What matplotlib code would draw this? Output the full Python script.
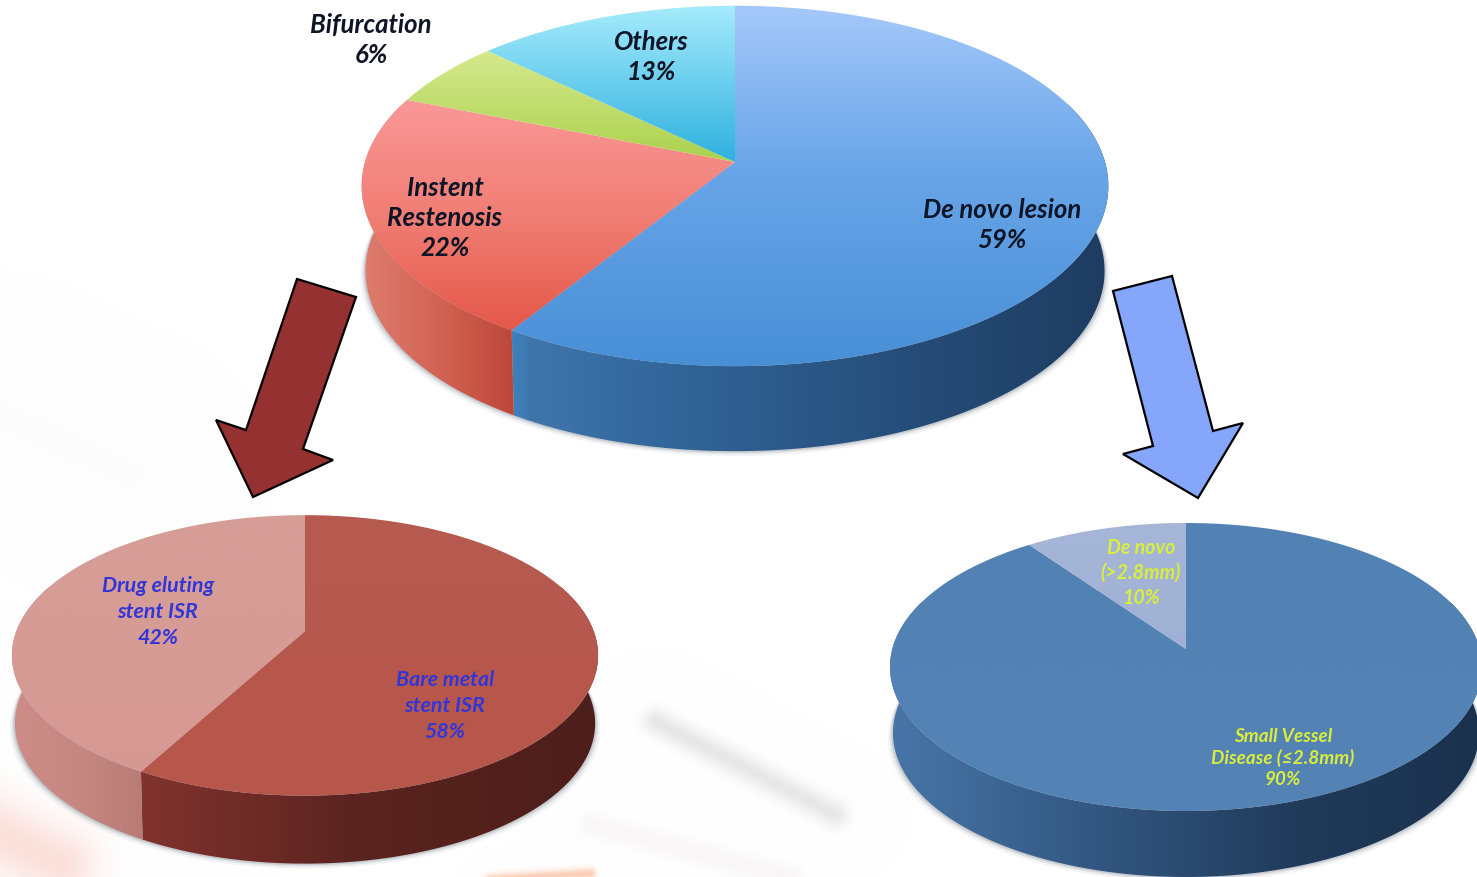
#!/usr/bin/python
# -*- coding: utf-8 -*-

import numpy as np

import matplotlib
matplotlib.use('Agg')

import matplotlib.pyplot as plt
from matplotlib.patches import Polygon

W, H = 1477, 878

# Lesion types, whole series.
main_labels = ['De novo lesion\n59%', 'Instent\nRestenosis\n22%', 'Bifurcation\n6%', 'Others\n13%']
main_values = [59, 22, 6, 13]

# Breakdown of instent restenosis.
isr_labels = ['Bare metal\nstent ISR\n58%', 'Drug eluting\nstent ISR\n42%']
isr_values = [58, 42]

# Breakdown of de novo lesions.
denovo_labels = ['Small Vessel\nDisease (≤2.8mm)\n90%', 'De novo\n(>2.8mm)\n10%']
denovo_values = [90, 10]

FONT = ['Lato', 'DejaVu Sans']


def rgb(*stops):
	return [(p, np.array(c) / 255.0) for p, c in stops]


def gradientFill(ax, xy, stops, vertical=True, zorder=2):
	# Paint a gradient given in pixel positions, clipped to a polygon.
	x0, y0 = np.floor(xy.min(axis=0))
	x1, y1 = np.ceil(xy.max(axis=0))
	pos = [s[0] for s in stops]
	cols = np.array([s[1] for s in stops])
	line = np.arange(y0, y1 + 1) if vertical else np.arange(x0, x1 + 1)
	ramp = np.stack([np.interp(line, pos, cols[:, i]) for i in range(3)], axis=1)
	img = ramp[:, None, :] if vertical else ramp[None, :, :]
	im = ax.imshow(img, extent=(x0, x1, y1, y0), aspect='auto', zorder=zorder, interpolation='bilinear')
	patch = Polygon(xy, closed=True, transform=ax.transData, facecolor='none', edgecolor='none')
	ax.add_patch(patch)
	im.set_clip_path(patch)


def rim(theta, cx, cy, a, b, k):
	# Circle seen in perspective: the far side shrinks, so the hub sits above the ellipse centre.
	d = 1 + k * np.cos(theta)
	return np.column_stack((cx + a * np.sin(theta) / d, cy - b * np.cos(theta) / d))


def drawPie(ax, values, geom, depth, top_stops, side_stops, shrink=0.99):
	cx, cy, a, b, k = geom
	edges = 2 * np.pi * np.cumsum([0] + list(values)) / float(sum(values))
	lower = (cx, cy + depth, a * shrink, b, k)

	# Soft shadow under the disc.
	th = np.linspace(np.radians(60), np.radians(300), 200)
	for grow, alpha in ((5, 0.06), (3, 0.10), (1.5, 0.16)):
		low = rim(th, cx, cy + depth + grow, a * shrink + grow, b, k)
		ax.add_patch(Polygon(low, closed=True, facecolor='#405060', edgecolor='none', alpha=alpha, zorder=1))

	# Side wall, front part of the rim only.
	for i in range(len(values)):
		t0 = max(edges[i], np.radians(70))
		t1 = min(edges[i + 1], np.radians(290))
		if t1 <= t0:
			continue
		th = np.linspace(t0, t1, 200)
		xy = np.vstack((rim(th, *geom), rim(th, *lower)[::-1]))
		gradientFill(ax, xy, side_stops[i], vertical=False, zorder=2)

	# Top surface.
	for i in range(len(values)):
		th = np.linspace(edges[i], edges[i + 1], 300)
		xy = np.vstack(([cx, cy], rim(th, *geom)))
		gradientFill(ax, xy, top_stops[i], vertical=True, zorder=3)


def backdrop():
	# Faint blurred streaks behind the discs.
	yy, xx = np.mgrid[0:H, 0:W]
	img = np.ones((H, W, 3))
	streaks = [
		((655, 722), (835, 815), 9, (165, 165, 165), 0.26),
		((590, 825), (790, 878), 9, (200, 180, 180), 0.11),
		((-40, 815), (60, 865), 26, (245, 165, 150), 0.34),
		((490, 880), (590, 874), 4, (245, 140, 85), 0.42),
		((0, 415), (130, 475), 18, (205, 205, 205), 0.05),
	]
	for p0, p1, width, col, strength in streaks:
		p0 = np.array(p0, float)
		p1 = np.array(p1, float)
		seg = p1 - p0
		t = np.clip(((xx - p0[0]) * seg[0] + (yy - p0[1]) * seg[1]) / (seg ** 2).sum(), 0, 1)
		dist2 = (xx - p0[0] - t * seg[0]) ** 2 + (yy - p0[1] - t * seg[1]) ** 2
		amount = strength * np.exp(-dist2 / (2.0 * width ** 2))[..., None]
		img = img * (1 - amount) + np.array(col) / 255.0 * amount
	return img


plt.rcParams['font.family'] = FONT

fig = plt.figure(figsize=(W / 100.0, H / 100.0), dpi=100)
ax = fig.add_axes([0, 0, 1, 1])
ax.imshow(backdrop(), extent=(0, W, H, 0), aspect='auto', zorder=0)

# Upper disc.
drawPie(ax, main_values, (735, 163, 370, 177, 0.133), 85,
	[
		rgb((7, (165, 200, 250)), (170, (105, 165, 232)), (367, (72, 143, 214))),
		rgb((100, (250, 152, 152)), (220, (240, 125, 115)), (330, (228, 88, 74))),
		rgb((55, (212, 232, 140)), (160, (172, 210, 78))),
		rgb((7, (165, 235, 252)), (160, (48, 178, 224))),
	],
	[
		rgb((505, (60, 135, 195)), (530, (62, 118, 172)), (700, (48, 98, 150)), (900, (38, 78, 122)), (1110, (30, 60, 96))),
		rgb((362, (222, 125, 112)), (450, (208, 95, 80)), (512, (188, 72, 58))),
		rgb((362, (200, 100, 90)), (410, (200, 100, 90))),
		rgb((362, (200, 100, 90)), (410, (200, 100, 90))),
	])

# Lower left disc.
drawPie(ax, isr_values, (305, 632, 288.6, 136, 0.174), 68,
	[
		rgb((516, (182, 90, 80)), (800, (184, 86, 74))),
		rgb((516, (214, 158, 152)), (800, (214, 152, 146))),
	],
	[
		rgb((148, (128, 50, 45)), (350, (92, 36, 32)), (598, (76, 30, 26))),
		rgb((12, (205, 140, 135)), (80, (198, 135, 130)), (150, (182, 122, 116))),
	])

# Lower right disc.
drawPie(ax, denovo_values, (1186, 650, 293.7, 141.75, 0.125), 66,
	[
		rgb((524, (82, 130, 180)), (815, (84, 130, 180))),
		rgb((524, (166, 182, 216)), (655, (160, 176, 212))),
	],
	[
		rgb((888, (72, 118, 168)), (1100, (50, 86, 128)), (1300, (32, 58, 90)), (1480, (26, 50, 78))),
		rgb((888, (160, 176, 212)), (1030, (160, 176, 212))),
	])

# Arrows from the slices to their breakdowns.
ax.add_patch(Polygon([(297, 280), (356, 298), (303, 450), (333, 461), (253, 498), (216, 421), (246, 431)],
	closed=True, facecolor='#953131', edgecolor='black', linewidth=1.6, zorder=4))
ax.add_patch(Polygon([(1113, 292), (1172, 277), (1213, 432), (1243, 424), (1198, 499), (1123, 455), (1153, 447)],
	closed=True, facecolor='#86a6fb', edgecolor='black', linewidth=1.6, zorder=4))

# Slice labels.
label_style = dict(ha='center', va='center', style='italic', weight='bold', zorder=5)
main_pos = [(1002, 225), (445, 218), (371, 40), (651, 57)]
for text, pos in zip(main_labels, main_pos):
	ax.text(pos[0], pos[1], text, fontsize=18.5, color='#0d1526', linespacing=1.28, **label_style)

isr_pos = [(445, 706), (158, 612)]
for text, pos in zip(isr_labels, isr_pos):
	ax.text(pos[0], pos[1], text, fontsize=15.4, color='#3236d8', linespacing=1.4, **label_style)

denovo_pos = [(1283, 758), (1141, 573)]
denovo_size = [13.6, 14.1]
denovo_spacing = [1.25, 1.29]
for text, pos, size, spacing in zip(denovo_labels, denovo_pos, denovo_size, denovo_spacing):
	ax.text(pos[0], pos[1], text, fontsize=size, color='#d9ee3c', linespacing=spacing, **label_style)

ax.set_xlim(0, W)
ax.set_ylim(H, 0)
ax.axis('off')

fig.savefig('out.png', dpi=100)
